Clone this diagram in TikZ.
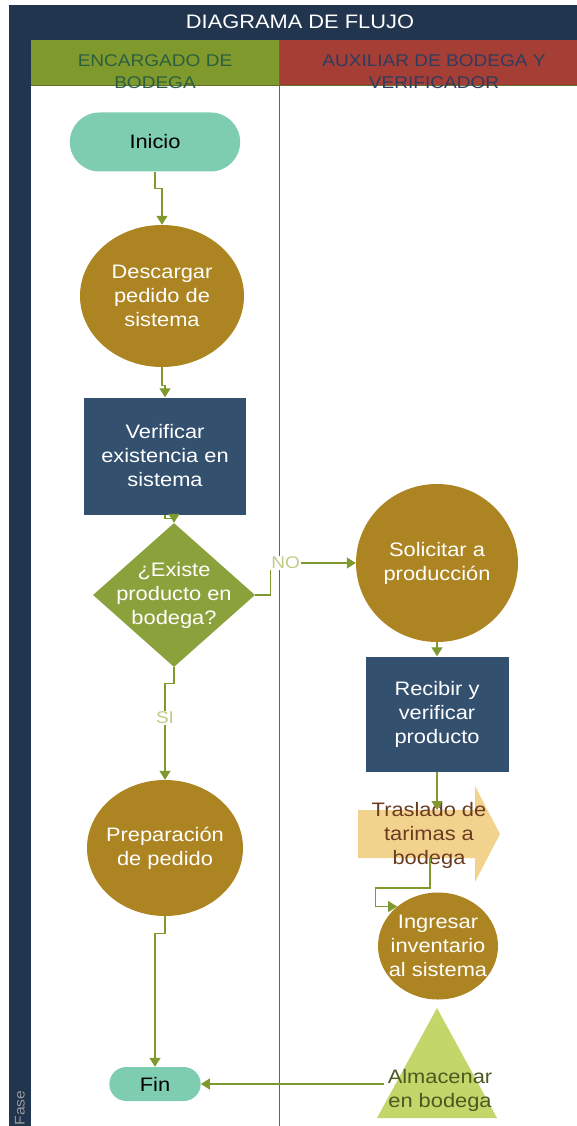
\documentclass[tikz,border=0pt]{standalone}
\usepackage{fontspec}
\setmainfont{Liberation Sans}[FakeStretch=1.12]
\usepackage{xcolor}
\usepackage{tikz}
\usetikzlibrary{shapes.geometric, shapes.misc, arrows.meta, positioning, calc}

\definecolor{navy}{HTML}{22354F}
\definecolor{verdecab}{HTML}{80992C}
\definecolor{rojocab}{HTML}{A53E35}
\definecolor{textoA}{HTML}{2B5F40}
\definecolor{textoB}{HTML}{2F3C5E}
\definecolor{turquesa}{HTML}{7ECDB1}
\definecolor{oro}{HTML}{AD8422}
\definecolor{azul}{HTML}{33506F}
\definecolor{oliva}{HTML}{8BA23C}
\definecolor{arena}{HTML}{F2D38E}
\definecolor{cafe}{HTML}{6B3B1F}
\definecolor{limon}{HTML}{C2D66A}
\definecolor{musgo}{HTML}{4A5A20}
\definecolor{conector}{HTML}{7E9A2E}
\definecolor{carril}{HTML}{5F6F2E}
\definecolor{etiq}{HTML}{C2CC88}

\begin{document}
\begin{tikzpicture}[x=1pt, y=-1pt, >={Triangle[width=11pt,length=9pt]}]
  \tikzstyle{txt} = [font=\fontsize{19.5}{24}\selectfont, align=center]
  \tikzstyle{terminal} = [rounded rectangle, fill=turquesa, text=black, txt]
  \tikzstyle{proceso} = [rectangle, fill=azul, text=white, txt]
  \tikzstyle{actividad} = [ellipse, fill=oro, text=white, txt, inner xsep=-14pt, inner ysep=0pt]
  \tikzstyle{decision} = [diamond, aspect=1.125, fill=oliva, text=white, txt, inner xsep=-16pt, inner ysep=0pt]
  \tikzstyle{cabecera} = [font=\fontsize{17}{22}\selectfont, align=center]
  \tikzstyle{flujo} = [->, draw=conector, line width=1.2pt]
  \tikzstyle{etiqueta} = [fill=white, text=etiq, font=\fontsize{17}{17}\selectfont, inner sep=1pt]

  % fondo y carriles
  \useasboundingbox (0,0) rectangle (577,1126);
  \fill[navy] (9,5) rectangle (577,40);
  \fill[navy] (9,40) rectangle (31,1126);
  \fill[verdecab] (31,40) rectangle (279,85);
  \fill[rojocab] (279,40) rectangle (577,85);
  \draw[carril, line width=0.8pt] (31,85) -- (577,85);
  \draw[carril, line width=0.8pt] (279,40) -- (279,1126);

  \node[font=\fontsize{19.5}{24}\selectfont, text=white] (Titulo) at (300,22) {DIAGRAMA DE FLUJO};
  \node[cabecera, text=textoA] (CarrilA) at (155,72) {ENCARGADO DE\\BODEGA};
  \node[cabecera, text=textoB] (CarrilB) at (434,72) {AUXILIAR DE BODEGA Y\\VERIFICADOR};
  \node[rotate=90, text=gray!80, font=\fontsize{14}{14}\selectfont] (Fase) at (20,1108) {Fase};

  % encargado de bodega
  \node[terminal, minimum width=177pt, minimum height=59pt] (Inicio) at (155,142) {Inicio};
  \node[actividad, minimum width=164pt, minimum height=142pt] (Descargar) at (162,296) {Descargar\\pedido de\\sistema};
  \node[proceso, minimum width=162pt, minimum height=117pt] (Verificar) at (165,456) {Verificar\\existencia en\\sistema};
  \node[decision, minimum width=162pt, minimum height=144pt] (Existe) at (174,595) {¿Existe\\producto en\\bodega?};
  \node[actividad, minimum width=156pt, minimum height=136pt] (Preparacion) at (165,848) {Preparación\\de pedido};
  \node[terminal, minimum width=98pt, minimum height=34pt] (Fin) at (155,1084) {Fin};

  % auxiliar de bodega y verificador
  \node[actividad, minimum width=162pt, minimum height=158pt] (Solicitar) at (437,563) {Solicitar a\\producción};
  \node[proceso, minimum width=143pt, minimum height=115pt] (Recibir) at (437,714) {Recibir y\\verificar\\producto};
  \fill[arena] (358,810) -- (475,810) -- (475,786) -- (500,834) -- (475,882) -- (475,858) -- (358,858) -- cycle;
  \coordinate (TrasladoArriba) at (437,810);
  \coordinate (TrasladoAbajo) at (430,858);
  \node[txt, text=cafe] (Traslado) at (429,835) {Traslado de\\tarimas a\\bodega};
  \node[actividad, minimum width=120pt, minimum height=107pt] (Ingresar) at (438,946) {Ingresar\\inventario\\al sistema};
  \fill[limon] (437,1008) -- (497,1118) -- (377,1118) -- cycle;
  \node[txt, text=musgo] (Almacenar) at (440,1090) {Almacenar\\en bodega};

  % conectores
  \draw[flujo] (Inicio.south) -- ++(0,17) -| (Descargar.north);
  \draw[flujo] (Descargar.south) -- ++(0,18) -| (Verificar.north);
  \draw[flujo] (Verificar.south) -- ++(0,4) -| (Existe.north);
  \draw[flujo] (Existe.east) -- ++(15,0) |- (Solicitar.west) node[etiqueta, pos=0.59] (No) {NO};
  \draw[flujo] (Existe.south) -- ++(0,16) -| (Preparacion.north) node[etiqueta, pos=0.68] (Si) {SI};
  \draw[flujo] (Solicitar.south) -- (Recibir.north);
  \draw[flujo] (Recibir.south) -- (TrasladoArriba);
  \draw[flujo] (TrasladoAbajo) -- ++(0,30) -| ($(Ingresar.136)+(-22,0)$) -- (Ingresar.136);
  \draw[flujo] (Preparacion.south) -- ++(0,17) -| (Fin.north);
  \draw[flujo] (Almacenar.west |- Fin.east) -- (Fin.east);
\end{tikzpicture}
\end{document}
